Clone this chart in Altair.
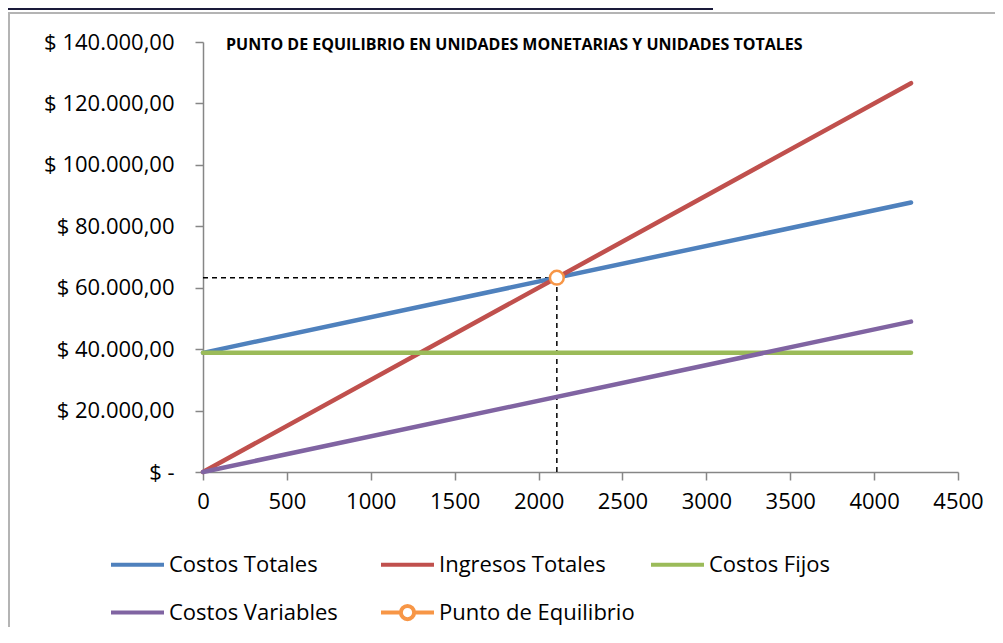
import altair as alt
import pandas as pd

# ---------------- data ----------------
unidades = [0, 4220]
costos_totales = [38800, 87752]
ingresos_totales = [0, 126600]
costos_fijos = [38800, 38800]
costos_variables = [0, 48952]
equilibrio_unidades = [2109]
equilibrio_valor = [63260]

series = ["Costos Totales", "Ingresos Totales", "Costos Fijos",
          "Costos Variables", "Punto de Equilibrio"]
colores = ["#4F81BD", "#C0504D", "#9BBB59", "#8064A2", "#F79646"]
x_ticks = [0, 500, 1000, 1500, 2000, 2500, 3000, 3500, 4000, 4500]
y_ticks = [0, 20000, 40000, 60000, 80000, 100000, 120000, 140000]
titulo = "PUNTO DE EQUILIBRIO EN UNIDADES MONETARIAS Y UNIDADES TOTALES"

FONT = "Open Sans"

rows = []
for i, (name, vals) in enumerate(zip(series[:4], [costos_totales, ingresos_totales,
                                                  costos_fijos, costos_variables])):
    for u, v in zip(unidades, vals):
        rows.append({"serie": name, "unidades": u, "valor": v, "orden": i})
lines_df = pd.DataFrame(rows)

punto_df = pd.DataFrame({"serie": ["Punto de Equilibrio"],
                         "unidades": equilibrio_unidades,
                         "valor": equilibrio_valor})

legend_df = pd.DataFrame({"serie": series,
                          "unidades": equilibrio_unidades * len(series),
                          "valor": equilibrio_valor * len(series)})

guia_df = pd.DataFrame({
    "x": [0, equilibrio_unidades[0]],
    "x2": [equilibrio_unidades[0], equilibrio_unidades[0]],
    "y": [equilibrio_valor[0], 0],
    "y2": [equilibrio_valor[0], equilibrio_valor[0]],
})

AXIS_COLOR = "#868686"

x_enc = alt.X("unidades:Q",
              scale=alt.Scale(domain=[0, 4500], nice=False),
              axis=alt.Axis(values=x_ticks, format="d", title=None, grid=False,
                            domainColor=AXIS_COLOR, tickColor=AXIS_COLOR,
                            domainWidth=1.5, tickWidth=1.5, tickSize=8,
                            labelFont=FONT, labelFontSize=22, labelColor="black",
                            labelPadding=11, labelFlush=False))

y_label_expr = ("datum.value == 0 ? '$ -\u00a0\u00a0' : '$ ' + "
                "replace(replace(replace(format(datum.value, ',.2f'), ',', '#'), '.', ','), '#', '.')")

y_enc = alt.Y("valor:Q",
              scale=alt.Scale(domain=[0, 140000], nice=False),
              axis=alt.Axis(values=y_ticks, title=None, grid=False,
                            labelExpr=y_label_expr,
                            domainColor=AXIS_COLOR, tickColor=AXIS_COLOR,
                            domainWidth=1.5, tickWidth=1.5, tickSize=8,
                            labelFont=FONT, labelFontSize=22, labelColor="black",
                            labelPadding=21, labelFlush=False))

color_scale = alt.Scale(domain=series, range=colores)

stroke_path = "M-1,0L1,0"
marker_path = ("M-1,0L-0.27,0M0.27,0L1,0"
               "M-0.25,0A0.25,0.25,0,1,1,0.25,0A0.25,0.25,0,1,1,-0.25,0Z")
shape_scale = alt.Scale(domain=series, range=[stroke_path] * 4 + [marker_path])

leg = alt.Legend(title=None, orient="none", legendX=-94, legendY=492,
                 direction="horizontal",
                 columns=3, gridAlign="all", columnPadding=8, rowPadding=6,
                 symbolSize=2809, symbolStrokeWidth=4, symbolOpacity=1,
                 labelFont=FONT, labelFontSize=22, labelColor="black",
                 labelOffset=3, labelLimit=400)

leyenda = alt.Chart(legend_df).mark_point(opacity=0, filled=False, fill="white").encode(
    x="unidades:Q", y="valor:Q",
    color=alt.Color("serie:N", scale=color_scale, legend=leg),
    shape=alt.Shape("serie:N", scale=shape_scale, legend=leg),
)

lineas = alt.Chart(lines_df).mark_line(strokeWidth=4.5, strokeCap="round").encode(
    x=x_enc, y=y_enc,
    color=alt.Color("serie:N", scale=color_scale, legend=None),
    order="orden:Q",
)

guias = alt.Chart(guia_df).mark_rule(color="black", strokeWidth=1.5,
                                     strokeDash=[5, 4]).encode(
    x="x:Q", x2="x2:Q", y="y:Q", y2="y2:Q")

punto = alt.Chart(punto_df).mark_point(shape="circle", size=190, filled=False,
                                       fill="white", strokeWidth=2.5, opacity=1).encode(
    x="unidades:Q", y="valor:Q",
    color=alt.Color("serie:N", scale=color_scale, legend=None),
)

# decorative frame of the original screenshot
marco = alt.Chart(pd.DataFrame({"k": [0]})).mark_rule(color="#1a1a3a", strokeWidth=2).encode(
    x=alt.value(-195), x2=alt.value(510), y=alt.value(-33))
marco2 = alt.Chart(pd.DataFrame({"k": [0]})).mark_rule(color="#b4b4b4", strokeWidth=2).encode(
    x=alt.value(-195), x2=alt.value(800), y=alt.value(-29))
marco3 = alt.Chart(pd.DataFrame({"k": [0]})).mark_rule(color="#b4b4b4", strokeWidth=2).encode(
    x=alt.value(-194), y=alt.value(-29), y2=alt.value(600))

chart = alt.layer(leyenda, marco, marco2, marco3, guias, lineas, punto).properties(
    width=755, height=430,
    title=alt.TitleParams(titulo, anchor="start", frame="group", font=FONT, fontSize=16,
                          fontWeight="bold", color="black", dx=23, dy=39, offset=-14,
                          baseline="middle"),
    autosize=alt.AutoSizeParams(type="none"),
    padding={"left": 195, "top": 34, "right": 37, "bottom": 155},
).configure_view(stroke=None)

chart.save("out.html", embed_options={"renderer": "svg", "actions": False})
